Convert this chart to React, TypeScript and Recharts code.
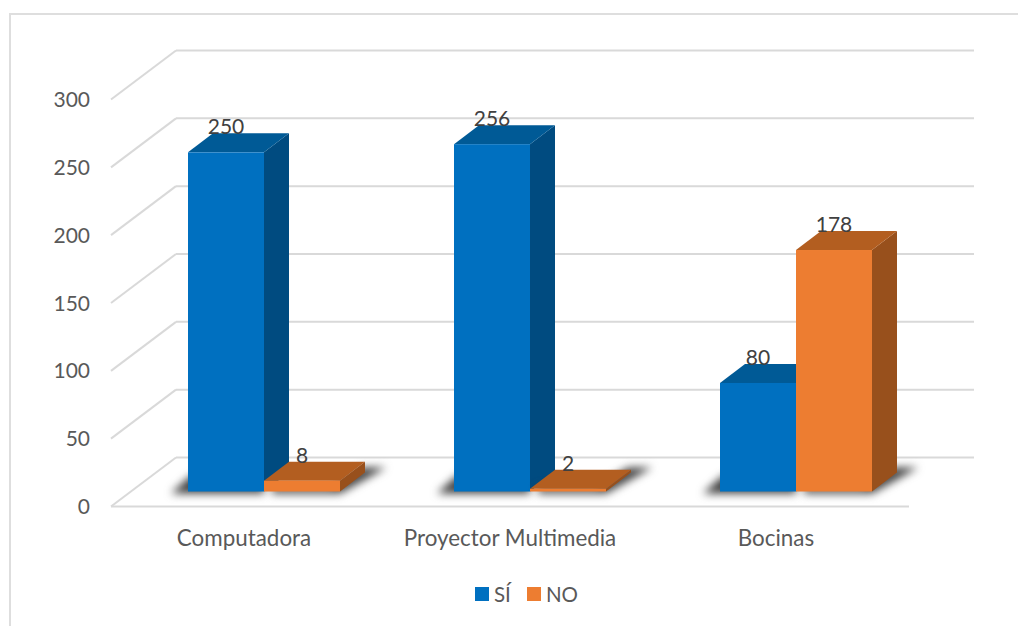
import React from 'react';
import { BarChart, Bar, XAxis, YAxis, CartesianGrid, Legend, LabelList } from 'recharts';

const categories = ['Computadora', 'Proyector Multimedia', 'Bocinas'];
const siValues = [250, 256, 80];
const noValues = [8, 2, 178];
const yTicks = [0, 50, 100, 150, 200, 250, 300];

const chartData = categories.map((name, i) => ({ name, si: siValues[i], no: noValues[i] }));

const FONT = 'Lato, sans-serif';
const TEXT_COLOR = '#595959';
const GRID_COLOR = '#d9d9d9';

// extrusion of the bars and of the back wall
const BAR_DX = 25;
const BAR_DY = 19;
const WALL_DX = 45;
const WALL_DY = 34;
const FLOOR_DX = 20;
const FLOOR_DY = 15;

const Box3D = (props: any) => {
  const { x, y, width, height, front, top, side, shadowSide } = props;
  const r = x + width;
  const b = y + height;
  const shadow =
    shadowSide === 'left'
      ? `${x - 17},${b + 2} ${r},${b + 2} ${r},${b - 16} ${x + 3},${b - 16}`
      : `${x + 8},${b + 2} ${r},${b + 2} ${r + 46},${b - 24} ${r + 22},${b - 24} ${r - 10},${b - 5} ${x + 8},${b - 5}`;
  return (
    <g>
      <polygon points={shadow} fill="#404040" style={{ filter: 'blur(4px)' }} />
      <polygon points={`${r},${y} ${r + BAR_DX},${y - BAR_DY} ${r + BAR_DX},${b - BAR_DY} ${r},${b}`} fill={side} />
      <polygon points={`${x},${y} ${x + BAR_DX},${y - BAR_DY} ${r + BAR_DX},${y - BAR_DY} ${r},${y}`} fill={top} />
      <rect x={x} y={y} width={width} height={height} fill={front} />
    </g>
  );
};

// each grid line becomes the back wall line plus the slanted line on the side wall
const WallLine = (props: any) => {
  const { x1, x2, y1, index } = props;
  return (
    <g key={`wall-${index}`} stroke={GRID_COLOR} strokeWidth={2} fill="none">
      <line x1={x1 + WALL_DX} x2={x2 + WALL_DX} y1={y1 - WALL_DY} y2={y1 - WALL_DY} />
      <line x1={x1 + WALL_DX} x2={x1 - FLOOR_DX} y1={y1 - WALL_DY} y2={y1 + FLOOR_DY} />
      {index === 0 && <line x1={x1 - FLOOR_DX} x2={x2 - FLOOR_DX} y1={y1 + FLOOR_DY} y2={y1 + FLOOR_DY} />}
    </g>
  );
};

const YTick = ({ y, payload }: any) => (
  <text x={90} y={y + 14} textAnchor="end" dominantBaseline="central" fontFamily={FONT} fontSize={21} fill={TEXT_COLOR}>
    {payload.value}
  </text>
);

const XTick = ({ x, payload }: any) => (
  <text x={x - FLOOR_DX} y={537} textAnchor="middle" dominantBaseline="central" fontFamily={FONT} fontSize={22.4} fill={TEXT_COLOR}>
    {payload.value}
  </text>
);

const LegendRow = ({ payload }: any) => (
  <div style={{ display: 'flex', justifyContent: 'flex-start', paddingLeft: 475, height: 25, fontFamily: FONT, fontSize: 20.5, color: TEXT_COLOR }}>
    {(payload || []).map((item: any) => (
      <div key={item.value} style={{ display: 'flex', alignItems: 'center', marginRight: 16 }}>
        <span style={{ display: 'block', width: 14, height: 14, marginRight: 5, background: item.color }} />
        <span>{item.value}</span>
      </div>
    ))}
  </div>
);

const labelStyle = { fontFamily: FONT, fontSize: 21, fill: '#404040' };

export default function App() {
  return (
    <div style={{ position: 'absolute', left: 0, top: 0, width: 1018, height: 626, overflow: 'hidden', background: '#fff' }}>
      <div style={{ position: 'absolute', left: 9, top: 13, width: 1009, height: 613, borderTop: '2px solid #dedede', borderLeft: '2px solid #dedede', boxSizing: 'border-box' }} />
      <BarChart
        width={1018}
        height={626}
        data={chartData}
        margin={{ top: 84.5, right: 89, bottom: 49.5, left: 0 }}
        barGap={0}
        barCategoryGap={57}
      >
        <CartesianGrid vertical={false} horizontal={(p: any) => <WallLine {...p} />} />
        <XAxis dataKey="name" axisLine={false} tickLine={false} height={60} interval={0} tick={<XTick />} />
        <YAxis width={131} domain={[0, 300]} ticks={yTicks} axisLine={false} tickLine={false} tick={<YTick />} />
        <Legend
          verticalAlign="bottom"
          itemSorter={null}
          content={<LegendRow />}
          wrapperStyle={{ position: 'absolute', top: 581, bottom: 'auto', left: 0, width: 1018 }}
        />
        <Bar
          dataKey="si"
          name="SÍ"
          fill="#0070c0"
          isAnimationActive={false}
          shape={(p: any) => <Box3D {...p} front="#0070c0" top="#005a96" side="#004b80" shadowSide="left" />}
        >
          <LabelList dataKey="si" position="top" offset={18} style={labelStyle} />
        </Bar>
        <Bar
          dataKey="no"
          name="NO"
          fill="#ed7d31"
          isAnimationActive={false}
          shape={(p: any) => <Box3D {...p} front="#ed7d31" top="#b35e20" side="#98501c" shadowSide="right" />}
        >
          <LabelList dataKey="no" position="top" offset={18} style={labelStyle} />
        </Bar>
      </BarChart>
    </div>
  );
}
